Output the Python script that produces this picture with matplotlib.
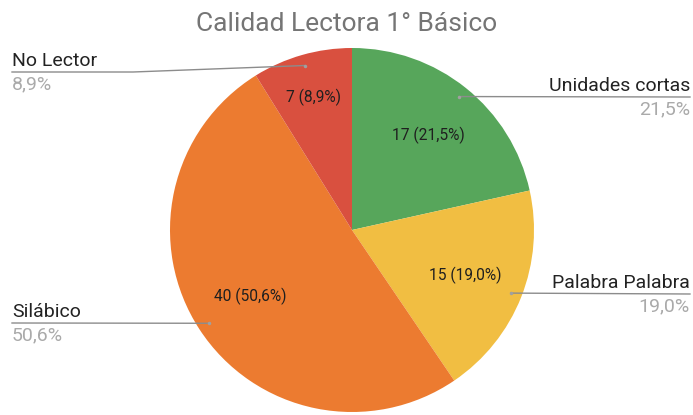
import numpy as np
import matplotlib.pyplot as plt

plt.rcParams['font.family'] = ['Roboto', 'DejaVu Sans']

# data
categorias = ['Unidades cortas', 'Palabra Palabra', 'Silábico', 'No Lector']
valores = [17, 15, 40, 7]
colores = ['#57a65b', '#f1be42', '#ec7b30', '#d9503f']
porcentajes = ['21,5%', '19,0%', '50,6%', '8,9%']

W, H = 693, 415
fig = plt.figure(figsize=(W / 100, H / 100), dpi=100)
ax = fig.add_axes([0, 0, 1, 1])
ax.set_xlim(0, W)
ax.set_ylim(H, 0)
ax.set_aspect('equal')
ax.axis('off')

cx, cy, r = 352, 230, 182
total = sum(valores)

def fmt(p):
    n = int(round(p * total / 100))
    return f"{n} ({p:.1f}%)".replace('.', ',')

wedges, texts, autotexts = ax.pie(
    valores, colors=colores, center=(cx, cy), radius=r,
    startangle=-90, counterclock=True, autopct=fmt, pctdistance=0.67,
    wedgeprops=dict(linewidth=0), textprops=dict(fontsize=11.2, color='#1f1f1f'))
ax.set_xlim(0, W)
ax.set_ylim(H, 0)

# small slice label sits further out
t = autotexts[3]
w = wedges[3]
ang = np.deg2rad((w.theta1 + w.theta2) / 2)
t.set_position((cx + 0.76 * r * np.cos(ang), cy + 0.76 * r * np.sin(ang)))

ax.text(W / 2, 31, 'Calidad Lectora 1° Básico', ha='center', va='baseline',
        fontsize=19, color='#757575')

# outer labels: side, line y
lados = ['right', 'right', 'left', 'left']
linea_y = [97, 294, 323, 72]
for w, nombre, pct, lado, ly in zip(wedges, categorias, porcentajes, lados, linea_y):
    ang = np.deg2rad((w.theta1 + w.theta2) / 2)
    dx = cx + 0.94 * r * np.cos(ang)
    dy = cy + 0.94 * r * np.sin(ang)
    if lado == 'right':
        xs = [dx, 690]
        ys = [dy, ly]
        tx, ha = 690, 'right'
    else:
        if abs(dy - ly) > 3:
            xs = [12, 133, dx]
            ys = [ly, ly, dy]
        else:
            xs = [12, dx]
            ys = [ly, dy]
        tx, ha = 12, 'left'
    ax.plot(xs, ys, color='#8c8c8c', lw=1)
    ax.plot(dx, dy, 'o', ms=2.5, color='#a0a0a0', mec='none')
    ax.text(tx, ly - 6, nombre, ha=ha, va='baseline', fontsize=14, color='#222222')
    ax.text(tx, ly + 17, pct, ha=ha, va='baseline', fontsize=14, color='#aaaaaa')

fig.savefig('out.png', dpi=100)
